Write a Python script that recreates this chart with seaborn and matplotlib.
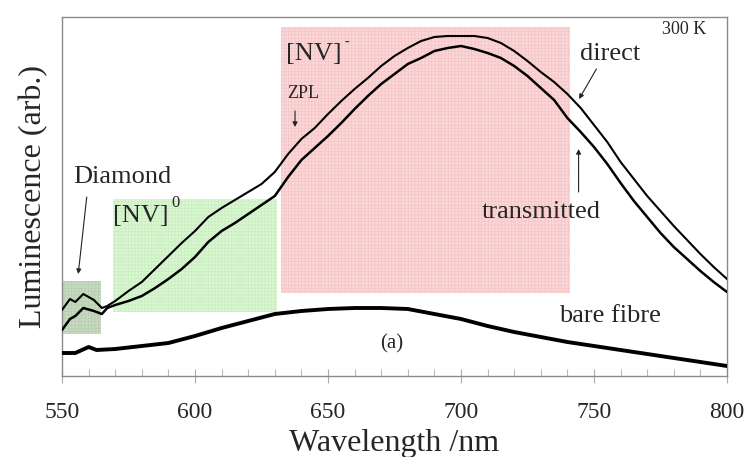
import numpy as np
import pandas as pd
import matplotlib
matplotlib.use("Agg")
import matplotlib.pyplot as plt
import seaborn as sns

# ---------------- data ----------------
wl = [550, 553, 555, 558, 562, 565, 567, 570, 575, 580, 585, 590, 595, 600, 605,
      610, 615, 620, 625, 630, 635, 640, 645, 650, 655, 660, 665, 670, 675, 680,
      685, 690, 695, 700, 705, 710, 715, 720, 725, 730, 735, 740, 745, 750, 755,
      760, 765, 770, 775, 780, 785, 790, 795, 800]
direct = [66, 77, 74, 82, 76, 68, 70, 75, 85, 94, 107, 120, 133, 145, 159,
          168, 176, 184, 192, 204, 222, 237, 248, 262, 275, 287, 298, 310, 320, 328,
          335, 339, 340, 340, 340, 338, 333, 325, 315, 304, 294, 282, 268, 251, 234,
          214, 197, 180, 165, 150, 136, 122, 109, 97]
transmitted = [46, 57, 60, 68, 65, 62, 68, 71, 75, 80, 88, 97, 107, 119, 134,
               145, 153, 162, 171, 180, 199, 216, 228, 240, 253, 267, 280, 292, 302, 312,
               318, 325, 328, 330, 327, 323, 318, 310, 300, 288, 276, 258, 244, 229, 212,
               193, 175, 159, 143, 129, 117, 105, 94, 84]
wl_bare = [550, 555, 560, 563, 570, 580, 590, 600, 610, 620, 630, 640, 650, 660,
           670, 680, 690, 700, 710, 720, 730, 740, 750, 760, 770, 780, 790, 800]
bare = [23, 23, 29, 26, 27, 30, 33, 40, 48, 55, 62, 65, 67, 68,
        68, 67, 62, 57, 50, 44, 39, 34, 30, 26, 22, 18, 14, 10]

# shaded bands: (x0, x1, y0, y1)
band_names = ["Diamond", "[NV]0", "[NV]-"]
band_x = [(550, 564.5), (569, 631), (632.5, 741)]
band_y = [(42, 95), (64, 177), (83, 349)]
band_colors = ["#c6d9c0", "#d8f6d0", "#fbd6d6"]
band_hatch = ["#b6cbb0", "#c8ecc0", "#f4c4c4"]

xticks = [550, 600, 650, 700, 750, 800]

# ---------------- figure ----------------
sns.set_theme(style="white")
plt.rcParams["font.family"] = ["Liberation Serif", "DejaVu Serif"]
plt.rcParams["hatch.linewidth"] = 0.4

fig = plt.figure(figsize=(7.45, 4.57), dpi=100)
ax = fig.add_axes([62 / 745, 1 - 376 / 457, (727 - 62) / 745, (376 - 17) / 457])

for (x0, x1), (y0, y1), c, hc in zip(band_x, band_y, band_colors, band_hatch):
    ax.fill_between([x0, x1], [y0, y0], [y1, y1], facecolor=c, edgecolor=hc,
                    hatch="+++++", linewidth=0, zorder=0)

df_main = pd.DataFrame({"wl": wl, "direct": direct, "transmitted": transmitted})
df_bare = pd.DataFrame({"wl": wl_bare, "bare": bare})
sns.lineplot(data=df_main, x="wl", y="direct", ax=ax, color="black", linewidth=1.5, zorder=3)
sns.lineplot(data=df_main, x="wl", y="transmitted", ax=ax, color="black", linewidth=1.8, zorder=3)
sns.lineplot(data=df_bare, x="wl", y="bare", ax=ax, color="black", linewidth=2.8, zorder=3)

ax.set_xlim(550, 800)
ax.set_ylim(0, 359)
ax.set_xticks(xticks)
ax.set_xticks(np.arange(550, 801, 10), minor=True)
ax.set_yticks([])
ax.tick_params(axis="x", which="major", direction="inout", length=10, width=0.8,
               color="#aaaaaa", labelsize=17, pad=14, bottom=True)
ax.tick_params(axis="x", which="minor", direction="in", length=5, width=0.8,
               color="#bbbbbb", bottom=True)
for s in ax.spines.values():
    s.set_color("#8a8a8a")
    s.set_linewidth(1.0)

ax.set_xlabel("Wavelength /nm", fontsize=23, labelpad=4)
ax.set_ylabel("Luminescence (arb.)", fontsize=23, labelpad=10)

# annotations
ax.text(784, 347, "300 K", fontsize=13, ha="center", va="center")
ax.text(756, 322, "direct", fontsize=19, ha="center", va="center")
ax.text(730, 164, "transmitted", fontsize=19, ha="center", va="center")
ax.text(756, 60, "bare fibre", fontsize=19, ha="center", va="center")
ax.text(674, 32, "(a)", fontsize=15, ha="center", va="center")
ax.text(572.5, 199, "Diamond", fontsize=19, ha="center", va="center")
ax.text(579.7, 160, "[NV]", fontsize=19, ha="center", va="center")
ax.text(592.5, 173, "0", fontsize=12, ha="center", va="center")
ax.text(644.6, 322, "[NV]", fontsize=19, ha="center", va="center")
ax.text(657, 334, "-", fontsize=10, ha="center", va="center")
ax.text(640.7, 282, "ZPL", fontsize=13, ha="center", va="center")

arrow_kw = dict(arrowstyle="-|>", color="#222222", lw=0.8, mutation_scale=7,
                shrinkA=0, shrinkB=0)
ax.annotate("", xy=(744.4, 277), xytext=(750.9, 307), arrowprops=arrow_kw)
ax.annotate("", xy=(744.2, 227), xytext=(744.2, 184), arrowprops=arrow_kw)
ax.annotate("", xy=(556.1, 102), xytext=(559.3, 179), arrowprops=arrow_kw)
ax.annotate("", xy=(637.6, 249), xytext=(637.6, 265), arrowprops=arrow_kw)

fig.savefig("out.png", dpi=100)
